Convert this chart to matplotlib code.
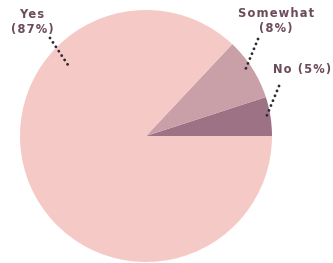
import matplotlib.pyplot as plt

labels = ["No (5%)", "Somewhat\n(8%)", "Yes\n(87%)"]
values = [5, 8, 87]
colors = ["#9e7285", "#c9a0a8", "#f5cac6"]

W, H = 333, 263
fig = plt.figure(figsize=(W / 100, H / 100), dpi=100)

# pie centre (146, 136) px, radius ~126 px
cx, cy, r = 146, 136, 126
ax = fig.add_axes([(cx - r) / W, (H - cy - r) / H, 2 * r / W, 2 * r / H])
ax.pie(values, colors=colors, startangle=0, counterclock=True,
       wedgeprops=dict(linewidth=0))
ax.set_xlim(-1, 1)
ax.set_ylim(-1, 1)
ax.set_aspect("auto")
ax.axis("off")

txt = "#6b4a5a"
font = dict(color=txt, fontsize=8.3, fontweight="bold", family="DejaVu Sans",
            ha="center", va="center", transform=fig.transFigure)


def px(x, y):
    return x / W, 1 - y / H


def spaced(s):
    # mimic the letter-spaced label font
    return "\n".join("\u200a".join(line) for line in s.split("\n"))


fig.text(*px(32, 22), spaced(labels[2]), linespacing=1.15, **font)
fig.text(*px(276, 21), spaced(labels[1]), linespacing=1.15, **font)
fig.text(*px(302, 69), spaced(labels[0]), **font)

# dotted leader lines
leaders = [((50, 38), (68, 65)), ((258, 39), (244, 73)), ((279, 86), (265, 120))]
for (x0, y0), (x1, y1) in leaders:
    a, b = px(x0, y0)
    c, d = px(x1, y1)
    fig.add_artist(plt.Line2D([a, c], [b, d], transform=fig.transFigure,
                              color="#2f2a2e", linestyle=(0, (0.01, 1.8)),
                              linewidth=2.1, dash_capstyle="round"))

fig.savefig("out.png", dpi=100)
